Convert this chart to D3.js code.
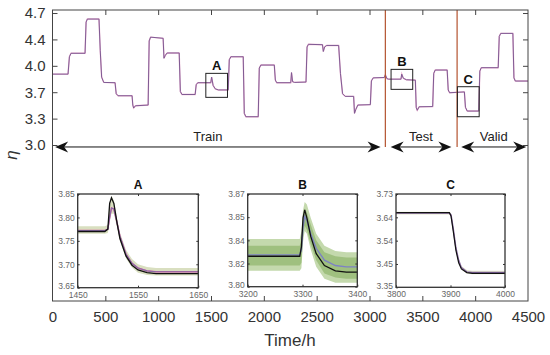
<!DOCTYPE html>
<html><head><meta charset="utf-8">
<script src="https://cdn.jsdelivr.net/npm/d3@7/dist/d3.min.js"></script>
<style>body{margin:0;background:#fff}svg{display:block;font-family:"Liberation Sans",Arial,sans-serif}</style>
</head><body><svg id="c" width="550" height="355"></svg>
<script>
// ---------- data ----------
const timeHours = [0,147,160,175,308,318,330,440,452,465,485,592,603,620,753,760,768,785,905,915,928,1047,1055,1068,1085,1199,1210,1225,1350,1360,1375,1498,1506,1520,1540,1570,1663,1673,1688,1805,1815,1830,1947,1957,1972,2099,2109,2122,2255,2262,2272,2290,2399,2409,2422,2555,2563,2575,2595,2708,2725,2745,2770,2850,2858,2870,2890,3008,3018,3035,3140,3150,3165,3180,3298,3305,3320,3350,3434,3442,3452,3470,3598,3608,3622,3735,3745,3758,3898,3908,3925,4034,4044,4058,4218,4228,4242,4357,4367,4380,4500];
const etaValues = [3.89,3.89,4.12,4.166,4.166,4.58,4.62,4.62,4.2,3.85,3.78,3.776,3.63,3.603,3.603,3.48,3.44,3.47,3.48,4.33,4.38,4.365,4.10,4.14,4.17,4.17,3.66,3.62,3.62,3.75,3.776,3.776,3.85,3.74,3.695,3.68,3.68,4.08,4.12,4.12,3.37,3.325,3.325,3.97,4.01,4.01,3.81,3.776,3.776,3.91,3.79,3.78,3.785,4.25,4.285,4.28,4.19,4.25,4.27,4.27,3.9,3.63,3.595,3.595,3.37,3.42,3.48,3.485,3.80,3.84,3.845,3.88,3.83,3.823,3.823,3.89,3.835,3.815,3.81,3.45,3.41,3.457,3.46,3.90,3.944,3.944,3.68,3.643,3.654,3.45,3.40,3.40,3.93,3.975,3.975,4.39,4.43,4.43,3.84,3.798,3.798];

const xTicks = [0,500,1000,1500,2000,2500,3000,3500,4000,4500];
const yTickValues = [4.7,4.35,4.0,3.65,3.3,2.95];
const yTickLabels = ["4.7","4.4","4.0","3.7","3.3","3.0"];

const splitTimes = [3150,3829];
const segmentNames = ["Train","Test","Valid"];
const segmentStart = [25,3200,3868];
const segmentEnd = [3105,3775,4483];
const arrowLevel = 2.924;

const boxNames = ["A","B","C"];
const boxT0 = [1451,3204,3832];
const boxT1 = [1656,3409,4038];
const boxV0 = [3.582,3.688,3.325];
const boxV1 = [3.90,3.953,3.723];

// inset A
const aTime  = [1450,1495,1500,1503,1506,1510,1515,1520,1530,1540,1550,1565,1580,1600,1650];
const aObs   = [3.770,3.770,3.775,3.830,3.842,3.830,3.790,3.755,3.718,3.698,3.688,3.682,3.680,3.680,3.680];
const aPred  = [3.772,3.772,3.775,3.800,3.820,3.818,3.790,3.760,3.722,3.702,3.692,3.686,3.684,3.684,3.684];
const aLow   = [3.765,3.765,3.767,3.790,3.808,3.808,3.780,3.750,3.713,3.693,3.682,3.677,3.676,3.676,3.676];
const aHigh  = [3.781,3.781,3.784,3.832,3.846,3.836,3.800,3.768,3.731,3.711,3.700,3.694,3.692,3.692,3.692];
const aYTicks = [3.85,3.80,3.75,3.70,3.65];
const aYLabels = ["3.85","3.80","3.75","3.70","3.65"];
const aXTicks = [1450,1550,1650];

// inset B
const bTime  = [3200,3295,3298,3301,3304,3308,3315,3325,3340,3360,3380,3400];
const bObs   = [3.823,3.823,3.830,3.852,3.858,3.852,3.838,3.825,3.816,3.812,3.811,3.811];
const bPred  = [3.824,3.824,3.828,3.845,3.853,3.850,3.840,3.829,3.820,3.816,3.815,3.815];
const bOutLow  = [3.812,3.812,3.814,3.834,3.842,3.840,3.828,3.815,3.806,3.803,3.803,3.803];
const bOutHigh = [3.836,3.836,3.842,3.858,3.864,3.862,3.852,3.840,3.831,3.827,3.826,3.826];
const bInLow   = [3.816,3.816,3.818,3.838,3.846,3.843,3.832,3.820,3.810,3.807,3.806,3.806];
const bInHigh  = [3.831,3.831,3.836,3.852,3.859,3.856,3.847,3.835,3.826,3.823,3.822,3.822];
const bYTicks = [3.87,3.8525,3.835,3.8175,3.80];
const bYLabels = ["3.87","3.85","3.84","3.82","3.80"];
const bXTicks = [3200,3300,3400];

// inset C
const cTime  = [3800,3898,3901,3905,3910,3915,3920,3930,3940,4000];
const cObs   = [3.654,3.654,3.640,3.580,3.500,3.450,3.425,3.410,3.407,3.407];
const cPred  = [3.652,3.652,3.645,3.590,3.510,3.460,3.430,3.413,3.410,3.410];
const cLow   = [3.647,3.647,3.638,3.582,3.502,3.452,3.423,3.406,3.403,3.403];
const cHigh  = [3.658,3.658,3.652,3.598,3.518,3.468,3.437,3.420,3.417,3.417];
const cYTicks = [3.73,3.635,3.54,3.445,3.35];
const cYLabels = ["3.73","3.64","3.54","3.45","3.35"];
const cXTicks = [3800,3900,4000];

// ---------- drawing ----------
const svg = d3.select("#c");
const L=52.5, R=528, T=10, B=301;
const x = d3.scaleLinear().domain([0,4500]).range([L,R]);
const y = d3.scaleLinear().domain([0.882,4.74]).range([B,T]);

// main line
const mainData = timeHours.map((t,i)=>[t,etaValues[i]]);
svg.append("path").datum(mainData)
  .attr("fill","none").attr("stroke","#e27bb0").attr("stroke-width",1.4).attr("opacity",0.55)
  .attr("d",d3.line().x(d=>x(d[0])).y(d=>y(d[1])));
svg.append("path").datum(mainData)
  .attr("fill","none").attr("stroke","#7f5b94").attr("stroke-width",1)
  .attr("d",d3.line().x(d=>x(d[0])).y(d=>y(d[1])));

// split lines
splitTimes.forEach(t=>{
  svg.append("line").attr("x1",x(t)).attr("x2",x(t)).attr("y1",T).attr("y2",y(arrowLevel))
    .attr("stroke","#b4532f").attr("stroke-width",1.2);
});

// boxes
boxNames.forEach((n,i)=>{
  svg.append("rect").attr("x",x(boxT0[i])).attr("y",y(boxV1[i]))
    .attr("width",x(boxT1[i])-x(boxT0[i])).attr("height",y(boxV0[i])-y(boxV1[i]))
    .attr("fill","none").attr("stroke","#222").attr("stroke-width",1);
  svg.append("text").attr("x",(x(boxT0[i])+x(boxT1[i]))/2).attr("y",y(boxV1[i])-3)
    .attr("text-anchor","middle").attr("font-size",13).attr("font-weight","bold").attr("fill","#111").text(n);
});

// arrows
function head(px,py,dir){
  const p = [[0,0],[13,-5.5],[9,0],[13,5.5]].map(([a,b])=>[px - dir*a, py+b]);
  return "M"+p.map(q=>q.join(",")).join("L")+"Z";
}
segmentNames.forEach((n,i)=>{
  const x0=x(segmentStart[i]), x1=x(segmentEnd[i]), yy=y(arrowLevel);
  svg.append("line").attr("x1",x0+4).attr("x2",x1-4).attr("y1",yy).attr("y2",yy).attr("stroke","#111").attr("stroke-width",1);
  svg.append("path").attr("d",head(x0,yy,-1)).attr("fill","#111");
  svg.append("path").attr("d",head(x1,yy,1)).attr("fill","#111");
  svg.append("text").attr("x",(x0+x1)/2 + (i===0?-10:0)).attr("y",yy-6)
    .attr("text-anchor","middle").attr("font-size",13).attr("fill","#222").text(n);
});

// main frame & axes
svg.append("rect").attr("x",L).attr("y",T).attr("width",R-L).attr("height",B-T)
  .attr("fill","none").attr("stroke","#444").attr("stroke-width",1);
const gl = svg.append("g").attr("transform",`translate(${L},0)`)
  .call(d3.axisLeft(y).tickValues(yTickValues).tickFormat((d,i)=>yTickLabels[i]).tickSizeInner(-5).tickSizeOuter(0).tickPadding(7));
const gr = svg.append("g").attr("transform",`translate(${R},0)`)
  .call(d3.axisRight(y).tickValues(yTickValues).tickFormat("").tickSizeInner(-5).tickSizeOuter(0));
const gb = svg.append("g").attr("transform",`translate(0,${B})`)
  .call(d3.axisBottom(x).tickValues(xTicks).tickFormat(d=>String(d)).tickSizeInner(-5).tickSizeOuter(0).tickPadding(10));
const gt = svg.append("g").attr("transform",`translate(0,${T})`)
  .call(d3.axisTop(x).tickValues(xTicks.slice(1,-1)).tickFormat("").tickSizeInner(-5).tickSizeOuter(0));
[gl,gr,gb,gt].forEach(g=>{g.select(".domain").remove(); g.selectAll(".tick line").attr("stroke","#444");});
[gl,gb].forEach(g=>g.selectAll(".tick text").attr("font-size",15).attr("fill","#333").attr("font-family","Liberation Sans, Arial, sans-serif"));
gb.selectAll(".tick").filter(d=>d===0||d===4500).select("line").remove();

svg.append("text").attr("x",290).attr("y",346).attr("text-anchor","middle")
  .attr("font-size",17).attr("fill","#333").text("Time/h");
svg.append("text").attr("transform","translate(17,155) rotate(-90)").attr("text-anchor","middle")
  .attr("font-size",17).attr("font-style","italic").attr("fill","#333").text("η");

// insets
function inset(opt){
  const g = svg.append("g");
  const ix = d3.scaleLinear().domain(opt.xd).range([opt.x0,opt.x1]);
  const iy = d3.scaleLinear().domain(opt.yd).range([opt.y1,opt.y0]);
  g.append("rect").attr("x",opt.x0).attr("y",opt.y0).attr("width",opt.x1-opt.x0).attr("height",opt.y1-opt.y0).attr("fill","#fff");
  opt.bands.forEach(b=>{
    g.append("path").datum(opt.t.map((t,i)=>[t,b.lo[i],b.hi[i]]))
      .attr("fill",b.color).attr("stroke","none")
      .attr("d",d3.area().x(d=>ix(d[0])).y0(d=>iy(d[1])).y1(d=>iy(d[2])));
  });
  opt.lines.forEach(l=>{
    g.append("path").datum(opt.t.map((t,i)=>[t,l.v[i]]))
      .attr("fill","none").attr("stroke",l.color).attr("stroke-width",l.w)
      .attr("d",d3.line().x(d=>ix(d[0])).y(d=>iy(d[1])));
  });
  g.append("rect").attr("x",opt.x0).attr("y",opt.y0).attr("width",opt.x1-opt.x0).attr("height",opt.y1-opt.y0)
    .attr("fill","none").attr("stroke","#333").attr("stroke-width",1.3);
  const al = g.append("g").attr("transform",`translate(${opt.x0},0)`)
    .call(d3.axisLeft(iy).tickValues(opt.yt).tickFormat((d,i)=>opt.yl[i]).tickSizeInner(-2).tickSizeOuter(0).tickPadding(3));
  const ar = g.append("g").attr("transform",`translate(${opt.x1},0)`)
    .call(d3.axisRight(iy).tickValues(opt.yt).tickFormat("").tickSizeInner(-2).tickSizeOuter(0));
  const ab = g.append("g").attr("transform",`translate(0,${opt.y1})`)
    .call(d3.axisBottom(ix).tickValues(opt.xt).tickFormat(d=>String(d)).tickSizeInner(-2).tickSizeOuter(0).tickPadding(4));
  const at = g.append("g").attr("transform",`translate(0,${opt.y0})`)
    .call(d3.axisTop(ix).tickValues(opt.xt).tickFormat("").tickSizeInner(-2).tickSizeOuter(0));
  [al,ar,ab,at].forEach(a=>{a.select(".domain").remove(); a.selectAll(".tick line").attr("stroke","#333");});
  [al,ab].forEach(a=>a.selectAll(".tick text").attr("font-size",8.5).attr("fill","#666").attr("font-family","Liberation Sans, Arial, sans-serif"));
  al.selectAll(".tick").filter((d,i)=>i===opt.yt.length-1).select("text").attr("dy","0.1em");
  g.append("text").attr("x",(opt.x0+opt.x1)/2).attr("y",opt.y0-5).attr("text-anchor","middle")
    .attr("font-size",12).attr("font-weight","bold").attr("fill","#111").text(opt.title);
}
inset({title:"A",x0:77.7,x1:198.3,y0:194,y1:287.7,xd:[1450,1650],yd:[3.65,3.85],t:aTime,
  xt:aXTicks,yt:aYTicks,yl:aYLabels,
  bands:[{lo:aLow,hi:aHigh,color:"#d9dfc0"}],
  lines:[{v:aPred,color:"#e0609e",w:1.4},{v:aPred,color:"#8a6aa8",w:1.2},{v:aObs,color:"#111",w:1.3}]});
inset({title:"B",x0:247.7,x1:357.3,y0:194,y1:286.7,xd:[3200,3400],yd:[3.80,3.87],t:bTime,
  xt:bXTicks,yt:bYTicks,yl:bYLabels,
  bands:[{lo:bOutLow,hi:bOutHigh,color:"#c4d9ad"},{lo:bInLow,hi:bInHigh,color:"#9fc07f"}],
  lines:[{v:bPred,color:"#7d82c4",w:1.4},{v:bObs,color:"#111",w:1.3}]});
inset({title:"C",x0:396,x1:505,y0:194,y1:287.3,xd:[3800,4000],yd:[3.35,3.73],t:cTime,
  xt:cXTicks,yt:cYTicks,yl:cYLabels,
  bands:[{lo:cLow,hi:cHigh,color:"#e4e8cc"}],
  lines:[{v:cPred,color:"#8a6aa8",w:1.4},{v:cObs,color:"#111",w:1.2}]});
</script></body></html>
